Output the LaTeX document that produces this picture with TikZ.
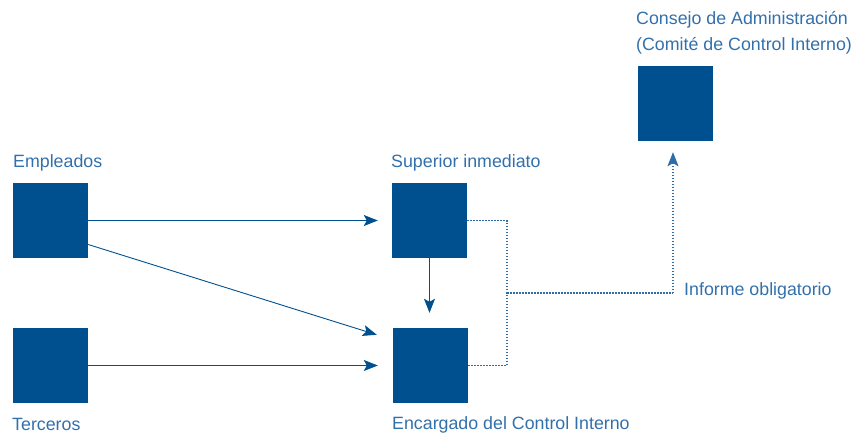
\documentclass[tikz,border=0pt]{standalone}
\usepackage{fontspec}
\setmainfont{Liberation Sans}
\usetikzlibrary{arrows.meta,calc}
\definecolor{boxblue}{HTML}{00508F}
\definecolor{txtblue}{HTML}{3270AC}
\definecolor{dotblue}{HTML}{2F6CA8}
\tikzset{
  blk/.style={draw=none,fill=boxblue,minimum width=75pt,minimum height=75pt,inner sep=0pt},
  lbl/.style={anchor=base west,inner sep=0pt,text=txtblue,font=\fontsize{17.8pt}{22pt}\selectfont},
  conn/.style={draw=boxblue,line width=0.9pt,-{Stealth[length=14pt,width=11pt,inset=3pt]}},
  dotconn/.style={draw=dotblue,line width=1.1pt,dash pattern=on 1.5pt off 1.5pt},
}
\begin{document}
\begin{tikzpicture}[x=1pt,y=-1pt]
\useasboundingbox (0,0) rectangle (857,434);
% boxes
\node[blk] (emp) at (50.5,220.5) {};
\node[blk] (ter) at (50.5,365.5) {};
\node[blk] (sup) at (429.5,220.5) {};
\node[blk] (enc) at (430.5,365.5) {};
\node[blk] (cons) at (675.5,103.5) {};
% labels
\node[lbl] (lemp) at (13,167) {Empleados};
\node[lbl] (lsup) at (391,167) {Superior inmediato};
\node[lbl] (lter) at (12,430) {Terceros};
\node[lbl] (lenc) at (392,429) {Encargado del Control Interno};
\node[lbl] (linf) at (684,295) {Informe obligatorio};
\node[lbl] (lcons1) at (636,24) {Consejo de Administración};
\node[lbl] (lcons2) at (636,50) {(Comité de Control Interno)};
% solid connectors
\draw[conn,shorten >=14pt] (emp.east) -- (sup.west);
\coordinate (ea) at ($(emp.east)+(0,24)$);
\coordinate (eb) at ($(enc.north west)+(-16,7)$);
\draw[conn] (ea) -- (eb);
\draw[conn,shorten >=15pt] (ter.east) -- (enc.west);
\draw[conn,shorten >=15pt] (sup.south) -- (enc.north -| sup.south);
% dotted connectors
\coordinate (j) at (507,293);
\coordinate (k) at (673,293);
\draw[dotconn] (sup.east) -| (j) |- (enc.east);
\draw[dotconn] (j) -- (k);
\draw[dotconn,-{Stealth[length=14pt,width=11pt,inset=3pt]},shorten >=11pt] (k) -- (cons.south -| k);
\end{tikzpicture}
\end{document}
